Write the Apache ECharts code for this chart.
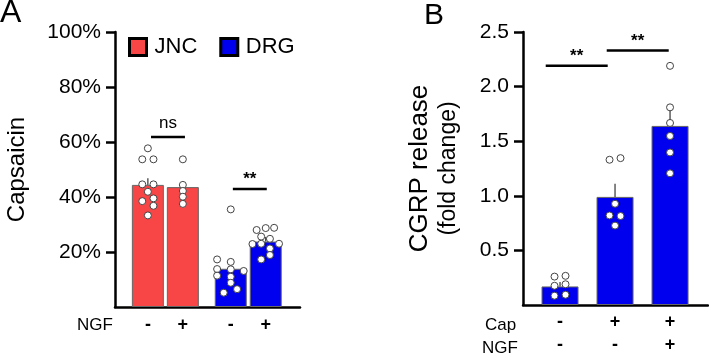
<!DOCTYPE html>
<html>
<head>
<meta charset="utf-8">
<script src="https://cdn.jsdelivr.net/npm/echarts@6/dist/echarts.min.js"></script>
<style>
  html, body { margin: 0; padding: 0; background: #fff; }
  #chart { width: 709px; height: 357px; }
</style>
</head>
<body>
<div id="chart"></div>
<script>
// ---- panel A data (Capsaicin %, NGF -/+) ----
const aPos = [1, 2, 3.37, 4.37];
const aSigns = ['-', '+', '-', '+'];
const jncMean = [44.4, 43.6];
const drgMean = [13.9, 23.8];
const aErrTop = [46.8, 45.6, 16.3, 25.5];

const jncNegVals = [57.7, 53.7, 53.7, 44.6, 44.6, 41.9, 38.5, 39.5, 36.8, 33.3];
const jncNegJit  = [0, -0.16, 0.16, -0.16, 0.16, 0, -0.16, 0.16, 0.16, 0];
const jncPosVals = [53.7, 44.4, 42.2, 40.1, 37.5];
const jncPosJit  = [0, 0, 0, 0, 0];
const drgNegVals = [35.5, 17.3, 16.4, 13.8, 13.7, 13.1, 11.4, 11.0, 8.8, 6.5, 5.2];
const drgNegJit  = [0, -0.39, 0, -0.39, 0, 0.37, -0.39, 0, 0, 0.18, -0.2];
const drgPosVals = [28.0, 28.7, 28.8, 25.6, 24.8, 22.9, 23.0, 23.0, 21.3, 18.9, 17.3];
const drgPosJit  = [-0.26, 0, 0.24, -0.13, 0.12, -0.38, -0.13, 0.38, 0.12, 0.12, -0.13];

// significance brackets: [x1, x2, y]
const aBrackets = [[1.09, 2.06, 61.8], [3.43, 4.40, 42.9]];
const aBracketText = ['ns', '**'];

// ---- panel B data (CGRP release, fold change) ----
const bPos = [1, 2, 3];
const capSigns = ['-', '+', '+'];
const ngfSigns = ['-', '-', '+'];
const bMean = [0.17, 0.99, 1.64];
const bErrTop = [0.21, 1.11, 1.79];

const b1Vals = [0.26, 0.267, 0.176, 0.19, 0.085, 0.094];
const b1Jit  = [-0.1, 0.1, -0.1, 0.1, -0.1, 0.1];
const b2Vals = [1.33, 1.345, 0.927, 0.82, 0.815, 0.727];
const b2Jit  = [-0.1, 0.1, 0, -0.1, 0.1, 0];
const b3Vals = [2.19, 1.81, 1.667, 1.548, 1.397, 1.206];
const b3Jit  = [0, 0, 0, 0, 0, 0];

const bBrackets = [[0.74, 1.867, 2.19], [1.849, 2.976, 2.33]];
const bBracketText = ['**', '**'];

const FONT = 'Liberation Sans, Arial, sans-serif';
const RED = '#F84545';
const BLUE = '#0000EE';

function dots(x, vals, jit) {
  return vals.map((v, i) => [x + jit[i], v]);
}

function dotSeries(axis, data) {
  return {
    type: 'scatter',
    xAxisIndex: axis, yAxisIndex: axis,
    data: data,
    symbol: 'circle',
    symbolSize: 7,
    itemStyle: { color: '#fff', borderColor: '#444', borderWidth: 1, opacity: 1 },
    z: 5,
    silent: true
  };
}

function errSeries(axis, pos, mean, top) {
  return {
    type: 'custom',
    xAxisIndex: axis, yAxisIndex: axis,
    data: pos.map((x, i) => [x, mean[i], top[i]]),
    encode: { x: 0, y: [1, 2] },
    renderItem: function (params, api) {
      const p1 = api.coord([api.value(0), api.value(1)]);
      const p2 = api.coord([api.value(0), api.value(2)]);
      return {
        type: 'line',
        shape: { x1: p1[0], y1: p1[1], x2: p2[0], y2: p2[1] },
        style: { stroke: '#333', lineWidth: 1.2 }
      };
    },
    z: 4,
    silent: true
  };
}

function bracketSeries(axis, data, texts) {
  return {
    type: 'custom',
    xAxisIndex: axis, yAxisIndex: axis,
    data: data,
    encode: { x: [0, 1], y: 2 },
    renderItem: function (params, api) {
      const p1 = api.coord([api.value(0), api.value(2)]);
      const p2 = api.coord([api.value(1), api.value(2)]);
      const label = texts[params.dataIndex];
      return {
        type: 'group',
        children: [{
          type: 'line',
          shape: { x1: p1[0], y1: p1[1], x2: p2[0], y2: p2[1] },
          style: { stroke: '#000', lineWidth: 2.5 }
        }, {
          type: 'text',
          style: {
            text: label,
            x: (p1[0] + p2[0]) / 2,
            y: p1[1] - (label === 'ns' ? 5 : 1),
            align: 'center',
            verticalAlign: 'bottom',
            font: (label === 'ns' ? '' : 'bold ') + '17px ' + FONT,
            fill: '#000'
          }
        }]
      };
    },
    silent: true
  };
}

const axisLine = { show: true, lineStyle: { color: '#000', width: 2.5 } };

const chart = echarts.init(document.getElementById('chart'));

chart.setOption({
  backgroundColor: '#fff',
  animation: false,
  textStyle: { fontFamily: FONT },
  legend: {
    data: ['JNC', 'DRG'],
    left: 128, top: 36,
    padding: 0,
    icon: 'rect',
    itemWidth: 17, itemHeight: 17,
    itemGap: 22,
    itemStyle: { borderColor: '#000', borderWidth: 3 },
    textStyle: { fontSize: 22, color: '#000', fontFamily: FONT, padding: [0, 0, 0, 3] }
  },
  grid: [
    { left: 115, top: 32, width: 185, height: 275 },
    { left: 523, top: 32, width: 185, height: 275 }
  ],
  xAxis: [{
    gridIndex: 0, type: 'value', min: 0.06, max: 5.35,
    axisLine: axisLine, splitLine: { show: false },
    axisTick: { show: false },
    axisLabel: {
      customValues: aPos,
      formatter: function (v) { return aSigns[aPos.indexOf(v)]; },
      fontSize: 18, fontWeight: 'bold', color: '#000', margin: 9
    }
  }, {
    gridIndex: 1, type: 'value', min: 0.327, max: 3.69,
    axisLine: axisLine, splitLine: { show: false },
    axisTick: { show: false },
    axisLabel: {
      customValues: bPos,
      formatter: function (v) {
        const i = bPos.indexOf(v);
        return capSigns[i] + '\n' + ngfSigns[i];
      },
      fontSize: 18, fontWeight: 'bold', lineHeight: 23, color: '#000', margin: 6
    }
  }],
  yAxis: [{
    gridIndex: 0, type: 'value', min: 0, max: 100, interval: 20,
    axisLine: axisLine, splitLine: { show: false },
    axisTick: { show: true, length: 9, lineStyle: { width: 2.5, color: '#000' } },
    axisLabel: { formatter: '{value}%', showMinLabel: false, fontSize: 21, color: '#000', margin: 14 },
    name: 'Capsaicin', nameLocation: 'middle', nameGap: 86,
    nameTextStyle: { fontSize: 24, color: '#000', fontFamily: FONT }
  }, {
    gridIndex: 1, type: 'value', min: 0, max: 2.5, interval: 0.5,
    axisLine: axisLine, splitLine: { show: false },
    axisTick: { show: true, length: 9, lineStyle: { width: 2.5, color: '#000' } },
    axisLabel: {
      formatter: function (v) { return v.toFixed(1); },
      showMinLabel: false, fontSize: 21, color: '#000', margin: 14
    },
    name: '{a|CGRP release}\n{b|(fold change)}', nameLocation: 'middle', nameGap: 60,
    nameTextStyle: {
      color: '#000', fontFamily: FONT,
      rich: {
        a: { fontSize: 26, lineHeight: 30, fontFamily: FONT, color: '#000' },
        b: { fontSize: 23, lineHeight: 28, fontFamily: FONT, color: '#000' }
      }
    }
  }],
  graphic: [
    { type: 'text', left: 0, top: -3, style: { text: 'A', font: '32px ' + FONT, fill: '#000' } },
    { type: 'text', left: 424, top: 1, style: { text: 'B', font: '30px ' + FONT, fill: '#000' } },
    { type: 'text', left: 77, top: 317, style: { text: 'NGF', font: '17px ' + FONT, fill: '#000' } },
    { type: 'text', left: 485, top: 317, style: { text: 'Cap', font: '17px ' + FONT, fill: '#000' } },
    { type: 'text', left: 482, top: 340, style: { text: 'NGF', font: '17px ' + FONT, fill: '#000' } }
  ],
  series: [
    {
      name: 'JNC', type: 'bar', xAxisIndex: 0, yAxisIndex: 0,
      data: jncMean.map((v, i) => [aPos[i], v]),
      barWidth: 32, barGap: '-100%',
      itemStyle: { color: RED, borderColor: '#666', borderWidth: 1 },
      silent: true
    },
    {
      name: 'DRG', type: 'bar', xAxisIndex: 0, yAxisIndex: 0,
      data: drgMean.map((v, i) => [aPos[i + 2], v]),
      barWidth: 32, barGap: '-100%',
      itemStyle: { color: BLUE, borderColor: '#666', borderWidth: 1 },
      silent: true
    },
    errSeries(0, aPos, jncMean.concat(drgMean), aErrTop),
    dotSeries(0, dots(aPos[0], jncNegVals, jncNegJit)),
    dotSeries(0, dots(aPos[1], jncPosVals, jncPosJit)),
    dotSeries(0, dots(aPos[2], drgNegVals, drgNegJit)),
    dotSeries(0, dots(aPos[3], drgPosVals, drgPosJit)),
    bracketSeries(0, aBrackets, aBracketText),
    {
      name: 'CGRP', type: 'bar', xAxisIndex: 1, yAxisIndex: 1,
      data: bMean.map((v, i) => [bPos[i], v]),
      barWidth: 37,
      itemStyle: { color: BLUE, borderColor: '#666', borderWidth: 1 },
      silent: true
    },
    errSeries(1, bPos, bMean, bErrTop),
    dotSeries(1, dots(bPos[0], b1Vals, b1Jit)),
    dotSeries(1, dots(bPos[1], b2Vals, b2Jit)),
    dotSeries(1, dots(bPos[2], b3Vals, b3Jit)),
    bracketSeries(1, bBrackets, bBracketText)
  ]
});
</script>
</body>
</html>
